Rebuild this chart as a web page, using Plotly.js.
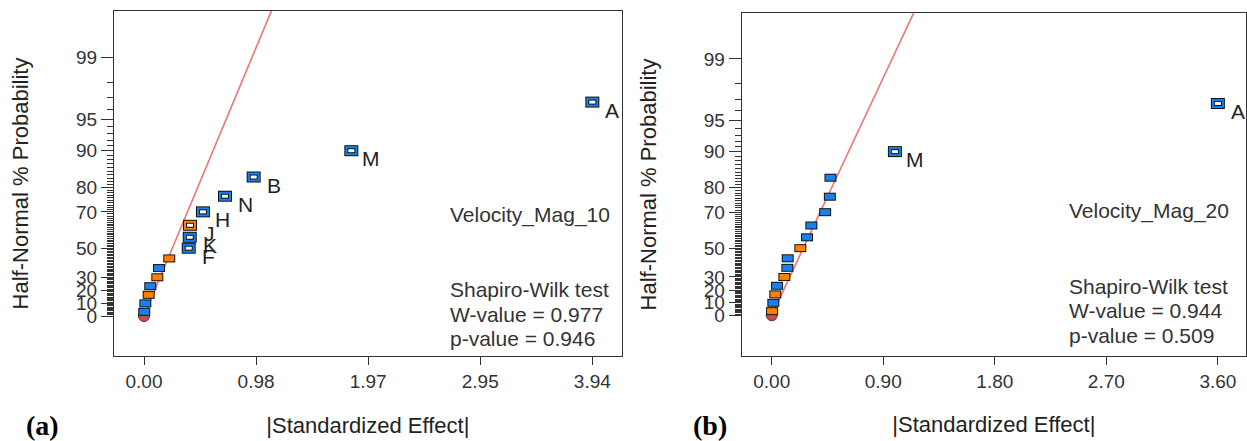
<!DOCTYPE html>
<html><head><meta charset="utf-8">
<script src="https://cdn.plot.ly/plotly-3.0.1.min.js"></script>
<style>html,body{margin:0;padding:0;background:#fff}#chart{width:1247px;height:441px}</style>
</head><body><div id="chart"></div>
<script>
// Half-normal % probability of each ranked effect
const probPct = [3.33, 10, 16.67, 23.33, 30, 36.67, 43.33, 50, 56.67, 63.33, 70, 76.67, 83.33, 90, 96.67];

// Panel (a): Velocity_Mag_10
const effectsA = [0.002, 0.012, 0.041, 0.055, 0.117, 0.132, 0.222, 0.393, 0.402, 0.404, 0.518, 0.712, 0.964, 1.822, 3.94];
const signA    = ['+','+','-','+','-','+','-','+','+','-','+','+','+','+','+'];
const labelsA  = ['','','','','','','','F','K','J','H','N','B','M','A'];
const fitEffectA = [0, 1.14];
const fitProbA   = [0, 99.8];
const xTickValsA = [0, 0.985, 1.97, 2.955, 3.94];
const xTickTextA = ['0.00','0.98','1.97','2.95','3.94'];
const responseA = 'Velocity_Mag_10';
const swA = ['Shapiro-Wilk test', 'W-value = 0.977', 'p-value = 0.946'];

// Panel (b): Velocity_Mag_20
const effectsB = [0.003, 0.013, 0.029, 0.043, 0.102, 0.126, 0.129, 0.231, 0.285, 0.320, 0.431, 0.469, 0.474, 0.994, 3.60];
const signB    = ['-','+','-','+','-','+','+','-','+','+','+','+','+','+','+'];
const labelsB  = ['','','','','','','','','','','','','','M','A'];
const fitEffectB = [0, 1.165];
const fitProbB   = [0, 99.8];
const xTickValsB = [0, 0.9, 1.8, 2.7, 3.6];
const xTickTextB = ['0.00','0.90','1.80','2.70','3.60'];
const responseB = 'Velocity_Mag_20';
const swB = ['Shapiro-Wilk test', 'W-value = 0.944', 'p-value = 0.509'];

// Error estimate point at the origin
const errEffect = [0];
const errProb = [0];

// Y-axis (half-normal probability) tick labels
const yTickPct  = [0, 10, 20, 30, 50, 70, 80, 90, 95, 99];
const yTickText = ['0','10','20','30','50','70','80','90','95','99'];

// ---------- probability scale helpers ----------
function probit(p) {
  const a=[-3.969683028665376e+01,2.209460984245205e+02,-2.759285104469687e+02,1.383577518672690e+02,-3.066479806614716e+01,2.506628277459239e+00];
  const b=[-5.447609879822406e+01,1.615858368580409e+02,-1.556989798598866e+02,6.680131188771972e+01,-1.328068155288572e+01];
  const c=[-7.784894002430293e-03,-3.223964580411365e-01,-2.400758277161838e+00,-2.549732539343734e+00,4.374664141464968e+00,2.938163982698783e+00];
  const d=[7.784695709041462e-03,3.224671290700398e-01,2.445134137142996e+00,3.754408661907416e+00];
  const pl=0.02425, ph=1-pl; let q,r;
  if (p < pl) { q=Math.sqrt(-2*Math.log(p)); return (((((c[0]*q+c[1])*q+c[2])*q+c[3])*q+c[4])*q+c[5])/((((d[0]*q+d[1])*q+d[2])*q+d[3])*q+1); }
  if (p <= ph) { q=p-0.5; r=q*q; return (((((a[0]*r+a[1])*r+a[2])*r+a[3])*r+a[4])*r+a[5])*q/(((((b[0]*r+b[1])*r+b[2])*r+b[3])*r+b[4])*r+1); }
  q=Math.sqrt(-2*Math.log(1-p)); return -(((((c[0]*q+c[1])*q+c[2])*q+c[3])*q+c[4])*q+c[5])/((((d[0]*q+d[1])*q+d[2])*q+d[3])*q+1);
}
const hn = pct => pct <= 0 ? 0 : probit(0.5 + pct/200);

const BLUE = '#1a80f0', ORANGE = '#ff8000', FONT = 'Liberation Sans, Arial, sans-serif';

function rect(xs, ys, xa, ya, len, h, color) {
  return {type:'scatter', mode:'markers', x:xs, y:ys, xaxis:xa, yaxis:ya, cliponaxis:false,
    hoverinfo:'skip', showlegend:false,
    marker:{symbol:'line-ew', size:len/1.4, color:color, line:{color:color, width:h}}};
}

function panel(effects, signs, labels, fitE, fitP, xa, ya) {
  const z = probPct.map(hn);
  const pick = f => { const X=[],Y=[]; effects.forEach((e,i)=>{ if(f(i)){X.push(e);Y.push(z[i]);} }); return [X,Y]; };
  const filled = i => labels[i]==='';
  const hollow = i => labels[i]!=='';
  const traces = [];
  traces.push({type:'scatter', mode:'markers', x:errEffect, y:errProb.map(hn), xaxis:xa, yaxis:ya, cliponaxis:false,
    hoverinfo:'skip', showlegend:false, marker:{symbol:'circle', size:11, color:'#c0504d', line:{color:'#6b2b2b', width:1}}});
  traces.push({type:'scatter', mode:'lines', x:fitE, y:fitP.map(hn), xaxis:xa, yaxis:ya, hoverinfo:'skip', showlegend:false,
    line:{color:'#ec7676', width:1.6}});
  let [X,Y] = pick(filled);
  traces.push(rect(X,Y,xa,ya,12,8,'#111'));
  [X,Y] = pick(i=>filled(i)&&signs[i]==='+'); traces.push(rect(X,Y,xa,ya,10,6,BLUE));
  [X,Y] = pick(i=>filled(i)&&signs[i]==='-'); traces.push(rect(X,Y,xa,ya,10,6,ORANGE));
  [X,Y] = pick(hollow); traces.push(rect(X,Y,xa,ya,14,11,'#111'));
  [X,Y] = pick(i=>hollow(i)&&signs[i]==='+'); traces.push(rect(X,Y,xa,ya,12,9,BLUE));
  [X,Y] = pick(i=>hollow(i)&&signs[i]==='-'); traces.push(rect(X,Y,xa,ya,12,9,ORANGE));
  [X,Y] = pick(hollow); traces.push(rect(X,Y,xa,ya,8,5,'#111'));
  [X,Y] = pick(hollow); traces.push(rect(X,Y,xa,ya,6,3,'#ffffff'));
  const ann = [];
  effects.forEach((e,i)=>{ if(labels[i]) ann.push({x:e, y:z[i], xref:xa, yref:ya, text:labels[i], showarrow:false,
    xanchor:'center', yanchor:'middle', xshift:20, yshift:-8, font:{family:FONT, size:21, color:'#222'}}); });
  return {traces, ann};
}

const pA = panel(effectsA, signA, labelsA, fitEffectA, fitProbA, 'x', 'y');
const pB = panel(effectsB, signB, labelsB, fitEffectB, fitProbB, 'x2', 'y2');

const minorPct = [];
for (let k = 1; k <= 98; k++) if (!yTickPct.includes(k)) minorPct.push(k);

function yAxis(domain, range) {
  return {domain, range, tickmode:'array', tickvals:yTickPct.map(hn), ticktext:yTickText,
    ticks:'outside', ticklen:12, tickwidth:1, tickcolor:'#333',
    showline:true, mirror:true, linecolor:'#333', linewidth:1, showgrid:false, zeroline:false,
    tickfont:{family:FONT, size:19, color:'#333'},
    minor:{tickmode:'array', tickvals:minorPct.map(hn), ticks:'outside', ticklen:6, tickwidth:1, tickcolor:'#333', showgrid:false},
    title:{text:'Half-Normal % Probability', font:{family:FONT, size:22, color:'#222'}, standoff:41}, fixedrange:true};
}
function xAxis(domain, range, vals, text, anchor) {
  return {domain, range, anchor, tickmode:'array', tickvals:vals, ticktext:text,
    ticks:'outside', ticklen:8, tickwidth:1, tickcolor:'#333',
    showline:true, mirror:true, linecolor:'#333', linewidth:1, showgrid:false, zeroline:false,
    tickfont:{family:FONT, size:19, color:'#333'},
    title:{text:'|Standardized Effect|', font:{family:FONT, size:22, color:'#222'}, standoff:26}, fixedrange:true};
}

const W = 1247, H = 441;
const px = v => v / W, py = v => 1 - v / H;
function txt(x, y, t, size, extra) {
  return Object.assign({xref:'paper', yref:'paper', x:px(x), y:py(y), text:t, showarrow:false,
    xanchor:'left', yanchor:'middle', font:{family:FONT, size:size, color:'#333'}}, extra||{});
}
const annotations = [...pA.ann, ...pB.ann,
  txt(448, 215, responseA, 21), txt(448, 289, swA[0], 21), txt(448, 314, swA[1], 21), txt(448, 338, swA[2], 21),
  txt(1067, 211, responseB, 21), txt(1067, 286, swB[0], 21), txt(1067, 310.5, swB[1], 21), txt(1067, 335, swB[2], 21),
  txt(42, 425, '<b>(a)</b>', 28, {xanchor:'center', font:{family:'Liberation Serif, Times New Roman, serif', size:28, color:'#000'}}),
  txt(710, 425, '<b>(b)</b>', 28, {xanchor:'center', font:{family:'Liberation Serif, Times New Roman, serif', size:28, color:'#000'}})
];

const layout = {
  width:W, height:H, margin:{l:0, r:0, t:0, b:0}, paper_bgcolor:'#fff', plot_bgcolor:'#fff',
  showlegend:false, font:{family:FONT},
  xaxis: xAxis([114/W, 621.7/W], [-0.2636, 4.198], xTickValsA, xTickTextA, 'y'),
  yaxis: Object.assign(yAxis([py(356), py(11)], [-0.398, 3.035]), {anchor:'x'}),
  xaxis2: xAxis([741.7/W, 1246/W], [-0.2423, 3.827], xTickValsB, xTickTextB, 'y2'),
  yaxis2: Object.assign(yAxis([py(355.7), py(13.3)], [-0.406, 3.035]), {anchor:'x2'}),
  annotations
};

Plotly.newPlot('chart', [...pA.traces, ...pB.traces], layout, {displayModeBar:false, staticPlot:true});
</script></body></html>
